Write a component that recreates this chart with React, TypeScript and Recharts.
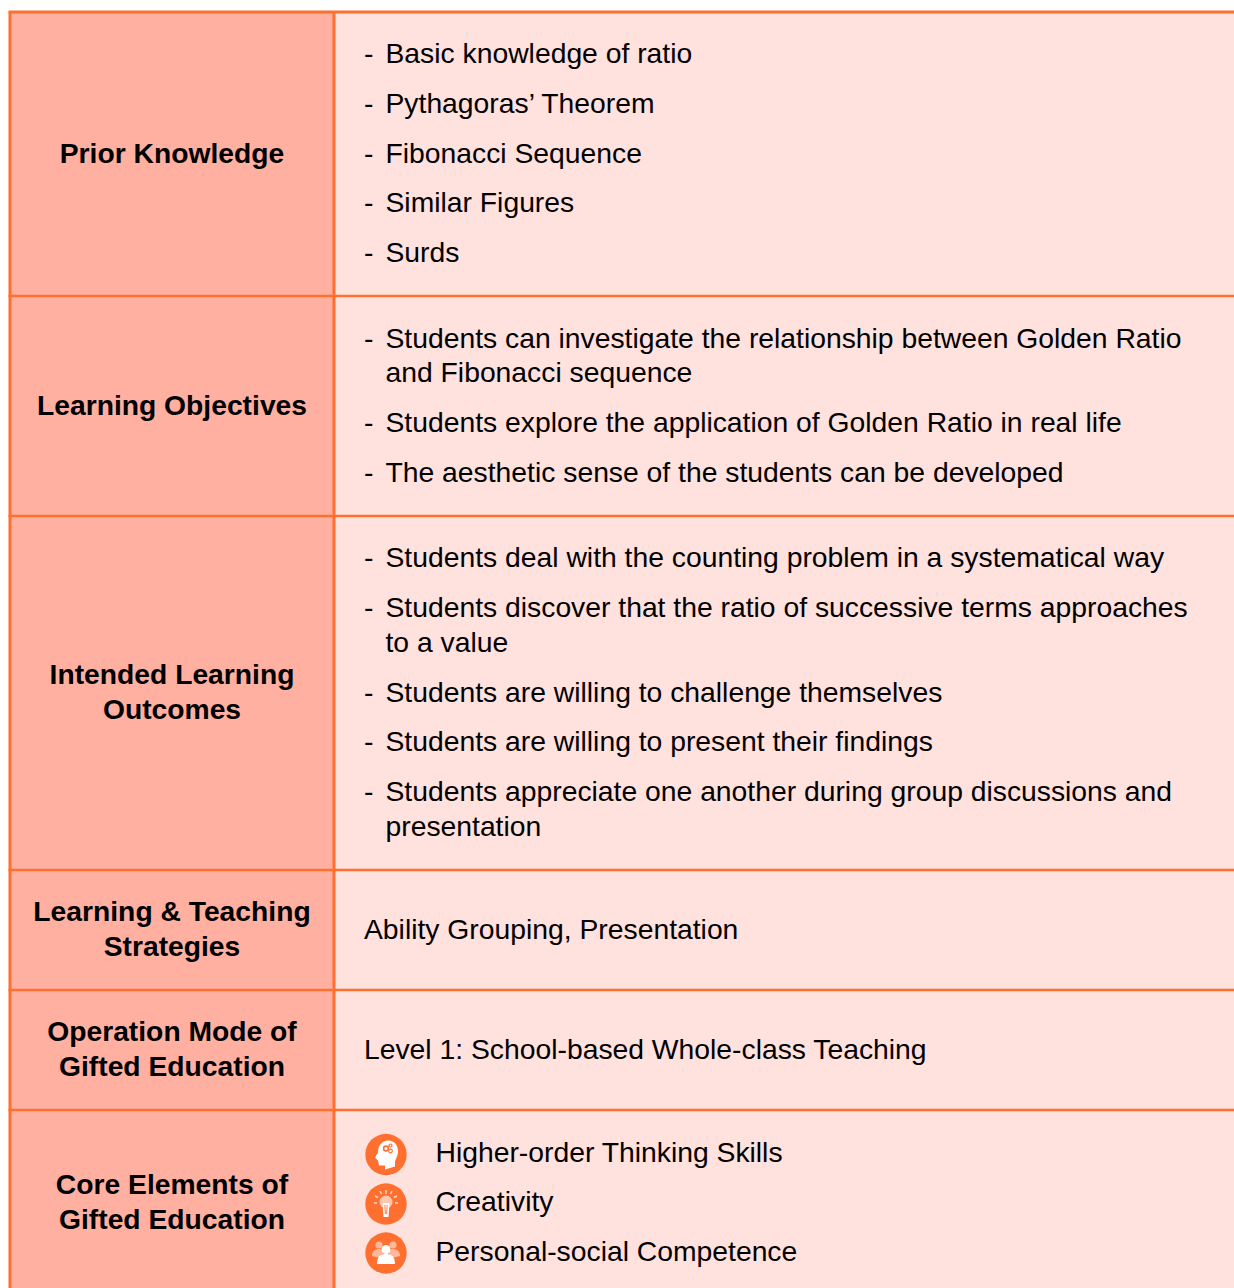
import React from 'react';
import { ScatterChart, Scatter, XAxis, YAxis, ReferenceArea, ReferenceLine } from 'recharts';

const WIDTH = 1234;
const HEIGHT = 1288;

const ORANGE = '#FF6F30';
const LEFT_FILL = '#FFB0A0';
const RIGHT_FILL = '#FFE1DE';
const FONT = '"Liberation Sans", Arial, sans-serif';

// table frame, in picture coordinates
const tableLeft = 10;
const columnEdge = 334;
const tableRight = 1234;
const rowEdges = [12, 296, 516, 870, 990, 1110, 1288];

const headingLines = [
  { x: 172, y: 153, text: 'Prior Knowledge' },
  { x: 172, y: 405, text: 'Learning Objectives' },
  { x: 172, y: 674, text: 'Intended Learning' },
  { x: 172, y: 709, text: 'Outcomes' },
  { x: 172, y: 911, text: 'Learning & Teaching' },
  { x: 172, y: 946, text: 'Strategies' },
  { x: 172, y: 1031, text: 'Operation Mode of' },
  { x: 172, y: 1066, text: 'Gifted Education' },
  { x: 172, y: 1184, text: 'Core Elements of' },
  { x: 172, y: 1219, text: 'Gifted Education' },
];

const dashes = [53, 103, 153, 202, 252, 338, 422, 472, 557, 607, 692, 741, 791].map((y) => ({ x: 364, y, text: '-' }));

const bodyLines = [
  { x: 385.5, y: 53, text: 'Basic knowledge of ratio' },
  { x: 385.5, y: 103, text: 'Pythagoras’ Theorem' },
  { x: 385.5, y: 153, text: 'Fibonacci Sequence' },
  { x: 385.5, y: 202, text: 'Similar Figures' },
  { x: 385.5, y: 252, text: 'Surds' },
  { x: 385.5, y: 338, text: 'Students can investigate the relationship between Golden Ratio' },
  { x: 385.5, y: 372, text: 'and Fibonacci sequence' },
  { x: 385.5, y: 422, text: 'Students explore the application of Golden Ratio in real life' },
  { x: 385.5, y: 472, text: 'The aesthetic sense of the students can be developed' },
  { x: 385.5, y: 557, text: 'Students deal with the counting problem in a systematical way' },
  { x: 385.5, y: 607, text: 'Students discover that the ratio of successive terms approaches' },
  { x: 385.5, y: 642, text: 'to a value' },
  { x: 385.5, y: 692, text: 'Students are willing to challenge themselves' },
  { x: 385.5, y: 741, text: 'Students are willing to present their findings' },
  { x: 385.5, y: 791, text: 'Students appreciate one another during group discussions and' },
  { x: 385.5, y: 826, text: 'presentation' },
  { x: 364, y: 929, text: 'Ability Grouping, Presentation' },
  { x: 364, y: 1049, text: 'Level 1: School-based Whole-class Teaching' },
  { x: 435.5, y: 1152, text: 'Higher-order Thinking Skills' },
  { x: 435.5, y: 1201, text: 'Creativity' },
  { x: 435.5, y: 1251, text: 'Personal-social Competence' },
];

const icons = [
  { x: 386, y: 1154.5, kind: 'head' },
  { x: 386, y: 1204, kind: 'bulb' },
  { x: 386, y: 1253, kind: 'people' },
];

const BodyText = (props: any) => (
  <text x={props.cx} y={props.cy} dominantBaseline="central" fontFamily={FONT} fontSize={28.3} fill="#000">
    {props.payload.text}
  </text>
);

const HeadingText = (props: any) => (
  <text x={props.cx} y={props.cy} dominantBaseline="central" textAnchor="middle" fontFamily={FONT} fontSize={28.25} fontWeight="bold" fill="#000">
    {props.payload.text}
  </text>
);

const Icon = (props: any) => {
  const { cx, cy, payload } = props;
  return (
    <g transform={`translate(${cx},${cy})`}>
      <circle r={20.7} fill={ORANGE} />
      {payload.kind === 'head' && (
        <g>
          <path d="M-1,15 L-1,11 L-7,11 L-8,6 L-11,3 L-8,-2 C-8,-10 -3,-14 2,-14 C9,-14 12,-9 12,-3 C12,2 9,5 9,8 L9,12 Z" fill="#fff" />
          <circle cx={0} cy={-6} r={2.4} fill="none" stroke={ORANGE} strokeWidth={1.6} />
          <circle cx={4.5} cy={-9} r={1.5} fill="none" stroke={ORANGE} strokeWidth={1.2} />
          <circle cx={4.5} cy={-3.5} r={1.8} fill="none" stroke={ORANGE} strokeWidth={1.2} />
        </g>
      )}
      {payload.kind === 'bulb' && (
        <g>
          <circle cx={0} cy={-2} r={6.5} fill="#FFC7AE" />
          <path d="M-3.5,-1 L3.5,-1 L2.5,13 L-2.5,13 Z" fill="#fff" />
          <path d="M-1.2,1 L-0.6,10 M1.2,1 L0.6,10" stroke={ORANGE} strokeWidth={0.9} />
          <path d="M0,-14 L0,-10 M-6,-13 L-4.5,-10 M6,-13 L4.5,-10 M-11,-8 L-8,-6.5 M11,-8 L8,-6.5 M-12,-1 L-9,-1 M12,-1 L9,-1" stroke="#FFD9C8" strokeWidth={1.4} />
        </g>
      )}
      {payload.kind === 'people' && (
        <g>
          <circle cx={-7} cy={-8} r={3.5} fill="#FFB89A" />
          <circle cx={7} cy={-8} r={3.5} fill="#FFB89A" />
          <path d="M-14,3 C-14,-3 -10,-4 -6,-4 L-1,-2 L-6,5 Z M14,3 C14,-3 10,-4 6,-4 L1,-2 L6,5 Z" fill="#FFB89A" />
          <circle cy={-3.5} r={4.5} fill="#fff" />
          <path d="M-9,11 C-9,3 -5,1 0,1 C5,1 9,3 9,11 Z" fill="#fff" />
        </g>
      )}
    </g>
  );
};

export default function App() {
  return (
    <div style={{ position: 'absolute', left: 0, top: 0, width: WIDTH, height: HEIGHT, background: '#fff' }}>
      <ScatterChart width={WIDTH} height={HEIGHT} margin={{ top: 0, right: 0, bottom: 0, left: 0 }}>
        <XAxis type="number" dataKey="x" domain={[0, WIDTH]} hide />
        <YAxis type="number" dataKey="y" domain={[0, HEIGHT]} reversed hide />

        <ReferenceArea x1={tableLeft} x2={columnEdge} y1={rowEdges[0]} y2={HEIGHT} fill={LEFT_FILL} fillOpacity={1} stroke="none" />
        <ReferenceArea x1={columnEdge} x2={tableRight} y1={rowEdges[0]} y2={HEIGHT} fill={RIGHT_FILL} fillOpacity={1} stroke="none" />

        {rowEdges.slice(0, -1).map((y, i) => (
          <ReferenceLine
            key={y}
            segment={[{ x: tableLeft - 1.5, y }, { x: tableRight, y }]}
            stroke={ORANGE}
            strokeWidth={i === 0 ? 3 : 2.5}
          />
        ))}
        <ReferenceLine stroke={ORANGE} strokeWidth={3} segment={[{ x: tableLeft, y: rowEdges[0] }, { x: tableLeft, y: HEIGHT }]} />
        <ReferenceLine stroke={ORANGE} strokeWidth={3} segment={[{ x: columnEdge, y: rowEdges[0] }, { x: columnEdge, y: HEIGHT }]} />

        <Scatter data={headingLines} shape={HeadingText} isAnimationActive={false} />
        <Scatter data={dashes} shape={BodyText} isAnimationActive={false} />
        <Scatter data={bodyLines} shape={BodyText} isAnimationActive={false} />
        <Scatter data={icons} shape={Icon} isAnimationActive={false} />
      </ScatterChart>
    </div>
  );
}
